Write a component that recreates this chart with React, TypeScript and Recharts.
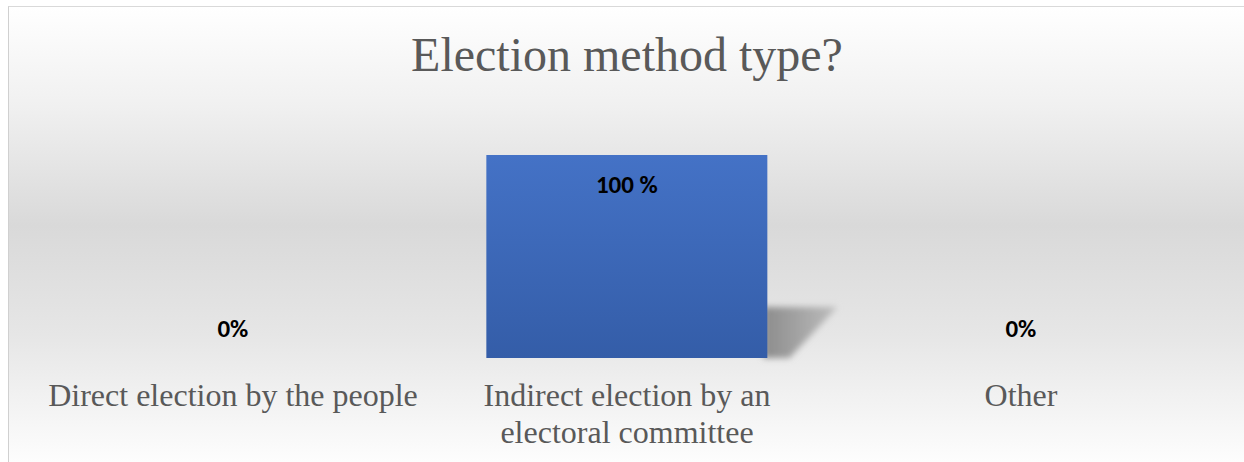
import React from 'react';
import { BarChart, Bar, XAxis, YAxis, LabelList } from 'recharts';

const categories = ['Direct election by the people', 'Indirect election by an electoral committee', 'Other'];
const shares = [0, 100, 0];
const valueLabels = ['0%', '100 %', '0%'];

const data = categories.map((name, i) => ({ name, share: shares[i], label: valueLabels[i] }));

const W = 1244;
const H = 462;
const serif = "'Liberation Serif', 'Times New Roman', serif";

let ctx: CanvasRenderingContext2D | null = null;
const measure = (s: string, font: string) => {
  if (!ctx) ctx = document.createElement('canvas').getContext('2d');
  if (!ctx) return s.length * 14;
  ctx.font = font;
  return ctx.measureText(s).width;
};

// wraps words to a max line width
const wrap = (text: string, maxW: number, font: string) => {
  const lines: string[] = [];
  let cur = '';
  text.split(' ').forEach((w) => {
    const next = cur ? cur + ' ' + w : w;
    if (cur && measure(next, font) > maxW) {
      lines.push(cur);
      cur = w;
    } else {
      cur = next;
    }
  });
  if (cur) lines.push(cur);
  return lines;
};

const CategoryTick = (props: any) => {
  const { x, y, payload } = props;
  const lines = wrap(payload.value, 385, `32px ${serif}`);
  return (
    <text x={x} y={y} textAnchor="middle" fill="#595959" fontSize={32} fontFamily={serif}>
      {lines.map((l, i) => (
        <tspan key={i} x={x} dy={i === 0 ? 25 : 37}>
          {l}
        </tspan>
      ))}
    </text>
  );
};

const ShadowBar = (props: any) => {
  const { x, y, width, height } = props;
  if (!height || height <= 0) return null;
  const bottom = y + height;
  const right = x + width;
  return (
    <g>
      <polygon
        points={`${right - 4},${bottom - 51} ${right + 70},${bottom - 51} ${right + 22},${bottom} ${right - 4},${bottom}`}
        fill="url(#shadowFill)"
        filter="url(#shadowBlur)"
      />
      <rect x={x} y={y} width={width} height={height} fill="url(#barFill)" />
    </g>
  );
};

const ValueLabel = (props: any) => {
  const { x, y, width, value, height } = props;
  const cx = x + width / 2;
  const ty = height > 0 ? y + 32 : y - 27;
  return (
    <text
      x={cx}
      y={ty}
      textAnchor="middle"
      dominantBaseline="middle"
      fontSize={25}
      fontWeight="bold"
      fill="#000"
      fontFamily="Carlito, 'Open Sans', 'DejaVu Sans', sans-serif"
    >
      {value}
    </text>
  );
};

export default function App() {
  return (
    <div style={{ position: 'absolute', left: 0, top: 0, width: W, height: H, background: '#fff', overflow: 'hidden' }}>
      <div
        style={{
          position: 'absolute',
          left: 8,
          top: 6,
          right: 0,
          bottom: 0,
          borderLeft: '1px solid #d0d0d0',
          borderTop: '1px solid #d9d9d9',
          background: 'linear-gradient(to bottom, #ffffff 0%, #f0f0f0 22%, #d9d9d9 48%, #e6e6e6 72%, #fdfdfd 100%)',
        }}
      />
      <div
        style={{
          position: 'absolute',
          left: 5,
          top: 27,
          width: W,
          textAlign: 'center',
          fontFamily: serif,
          fontSize: 48,
          color: '#595959',
          lineHeight: '56px',
        }}
      >
        Election method type?
      </div>
      <div style={{ position: 'absolute', left: 0, top: 0 }}>
        <BarChart width={W} height={H} data={data} margin={{ top: 155, right: 26, bottom: 0, left: 36 }} barCategoryGap="14.3%">
          <defs>
            <linearGradient id="barFill" x1="0" y1="0" x2="0" y2="1">
              <stop offset="0%" stopColor="#4472c6" />
              <stop offset="100%" stopColor="#345da8" />
            </linearGradient>
            <linearGradient id="shadowFill" x1="0" y1="0" x2="1" y2="0">
              <stop offset="0%" stopColor="#8c8c8c" />
              <stop offset="100%" stopColor="#bdbdbd" />
            </linearGradient>
            <filter id="shadowBlur" x="-20%" y="-20%" width="140%" height="140%">
              <feGaussianBlur stdDeviation="3" />
            </filter>
          </defs>
          <XAxis
            dataKey="name"
            axisLine={false}
            tickLine={false}
            height={104}
            tickMargin={17}
            interval={0}
            tick={<CategoryTick />}
          />
          <YAxis hide domain={[0, 100]} />
          <Bar dataKey="share" shape={<ShadowBar />} isAnimationActive={false}>
            <LabelList dataKey="label" content={<ValueLabel />} />
          </Bar>
        </BarChart>
      </div>
    </div>
  );
}
